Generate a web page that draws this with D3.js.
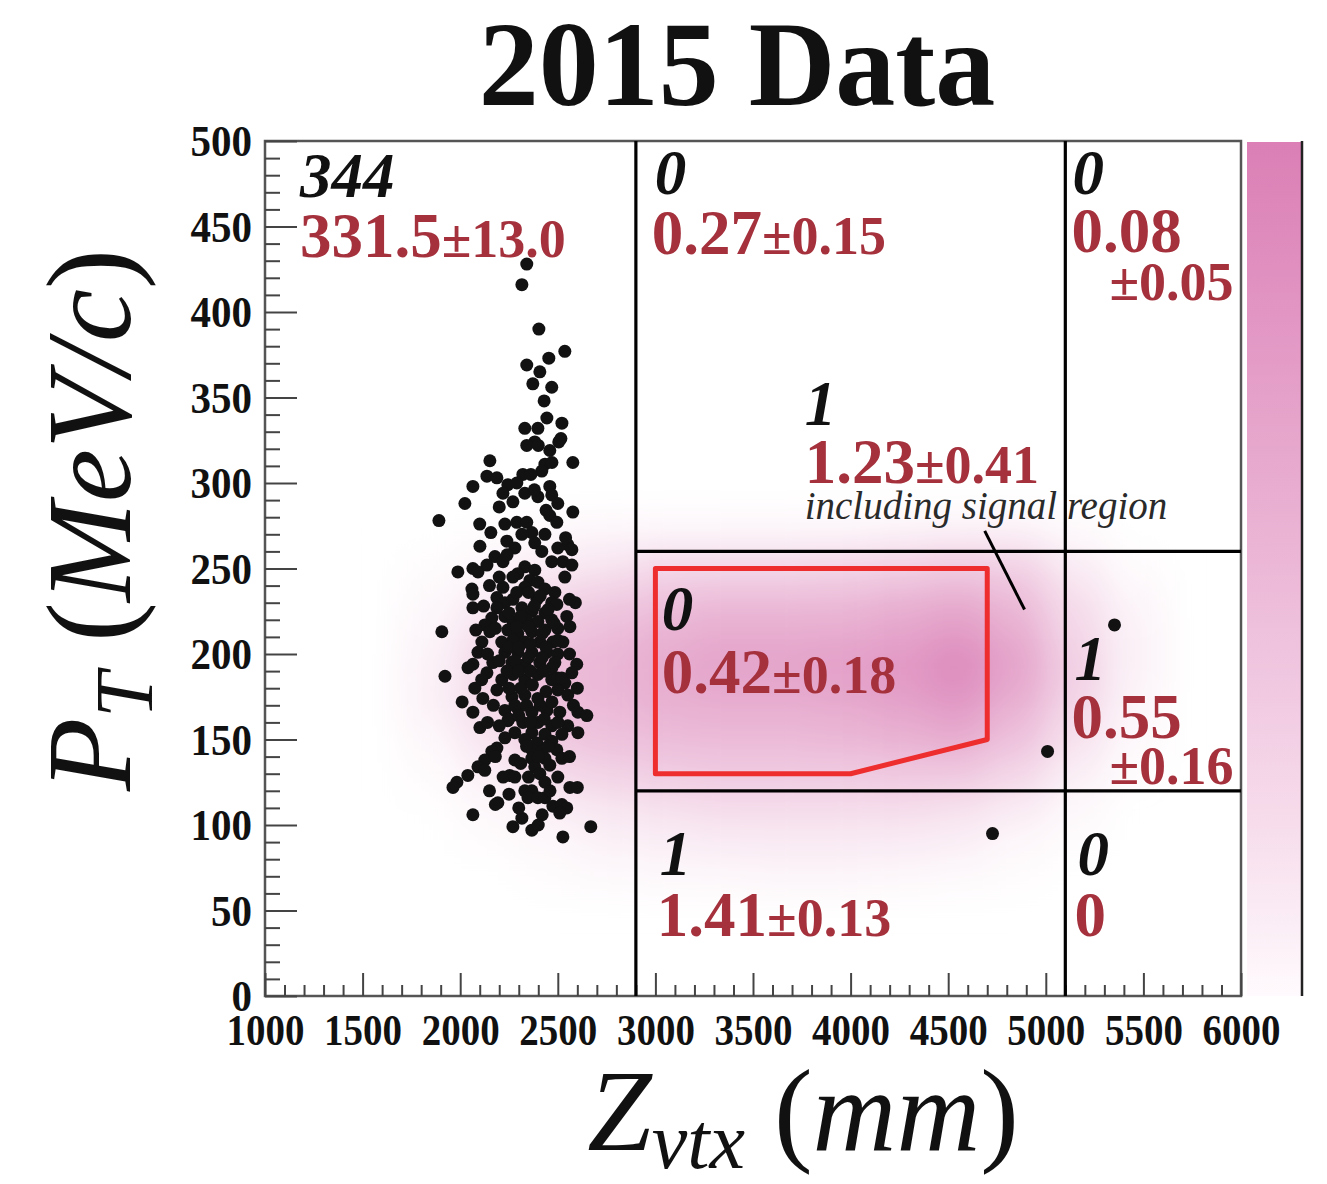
<!DOCTYPE html>
<html>
<head>
<meta charset="utf-8">
<script src="https://cdn.jsdelivr.net/npm/d3@7"></script>
<style>
  html, body { margin: 0; padding: 0; background: #fff; }
  svg { display: block; }
</style>
</head>
<body>
<svg id="chart" width="1327" height="1184"></svg>
<script>
// ---------------- DATA ----------------
const xTickValues = [1000, 1500, 2000, 2500, 3000, 3500, 4000, 4500, 5000, 5500, 6000];
const yTickValues = [0, 50, 100, 150, 200, 250, 300, 350, 400, 450, 500];

// selection cuts (mm, MeV/c)
const zCuts = [2900, 5100];
const ptCuts = [120, 260];

// signal region polygon (Zvtx, PT)
const signalRegion = [[3000, 130], [3000, 250], [4700, 250], [4700, 150], [4000, 130]];
const leaderLine = [[4687, 272], [4891, 226]];

// data events (Zvtx mm, PT MeV/c)
const events = [
 [2341,428],[2316,416],[2403,390],[2536,377],[2454,373],[2341,369],[2408,365],[2372,358],[2469,356],
 [2444,338],[2331,332],[2398,332],[2521,335],[2516,326],[2505,324],[2382,324],[2341,322],[2459,319],
 [2152,313],[2577,312],[2434,311],[2418,307],[2137,304],[2188,303],[2321,305],[2362,305],[2065,298],
 [2244,299],[2459,298],
 [2024,288],[1891,278],[2219,294],[2270,289],[2331,294],[2398,292],[2469,293],[2500,288],[2577,283],
 [2459,281],[2495,277],[2229,276],[2290,277],[2341,277],[2367,271],[2316,270],[2157,271],[2434,270],
 [2101,263],[2239,266],[2280,262],[2382,265],[2418,260],[2551,264],[2572,261],[2178,257],[2219,254],
 [2137,252],[2065,250],[2091,248],[1988,248],[2469,254],[2526,254],[2572,252],[2331,251],[2382,249],
 [2295,247],[2270,245],[2536,245],[2357,243],[2398,242],[2219,239],[2060,238],[2065,235],[2434,238],
 [2485,236],[2331,239],[2188,233],[2229,230],[2270,232],[2393,232],[2469,230],[2495,229],[2065,227],
 [2188,227],[2316,227],[2367,225],[2434,224],[2162,221],[2229,222],[2270,219],[2341,220],[2398,219],
 [2469,220],[2546,222],[1906,213],[2126,217],[2152,213],[2244,214],[2295,212],[2367,213],[2434,214],
 [2500,215],[2562,216],[2111,207],[2213,207],[2270,208],[2331,207],[2408,207],[2475,207],[2526,207],
 [2091,201],[2229,201],[2295,201],[2367,201],[2444,201],[2500,200],[2065,194],[2167,195],[2265,195],
 [2331,194],[2408,195],[2485,195],[2597,194],
 [1922,187],[2075,180],[2116,174],[2137,189],[2213,185],[2270,188],[2331,185],[2398,188],[2469,185],
 [2536,183],[2572,189],[2188,179],[2265,175],[2331,176],[2398,174],[2500,179],[2551,176],[2065,166],
 [2229,167],[2295,168],[2367,166],[2444,167],[2510,166],[2603,166],[2649,164],[2101,157],[2244,161],
 [2321,160],[2398,160],[2469,158],[2551,158],[2603,154],[2280,154],[2367,154],[2434,153],[2521,153],
 [2229,151],[2331,150],[2393,148],[2469,149],[2188,145],[2162,143],[2367,144],[2418,143],[2495,144],
 [2126,138],[2280,138],[2367,139],[2434,139],[2521,139],[2091,134],[2382,134],[2459,135],[2039,129],
 [2126,132],[2254,129],[2408,130],[2500,128],[1983,125],[1963,122],[2434,125],[2562,122],[2331,120],
 [2367,120],[2347,116],[2398,116],[2434,116],[2193,113],[2475,111],[2521,112],[2546,110],[2510,107],
 [2065,106],[2316,104],[2270,99],[2367,97],[2526,93],[2669,99],
 [2290,236],[2350,236],[2410,234],[2250,224],[2310,222],[2380,228],[2450,226],[2290,216],[2350,216],
 [2420,212],[2480,218],[2250,204],[2300,204],[2360,206],[2440,204],[2500,208],[2280,196],[2350,198],
 [2420,198],[2470,192],[2240,190],[2300,190],[2360,190],[2430,190],[2500,186],[2250,180],[2310,180],
 [2370,182],[2440,178],[2280,170],[2340,170],[2410,170],[2470,172],[2250,162],[2300,164],[2360,160],
 [2430,162],[2500,160],[2340,146],[2450,146],[2310,136],[2400,140],[2350,128],[2460,120],[2300,110],
 [2150,240],[2200,245],[2120,228],[2180,215],[2140,200],[2200,196],[2110,185],[2170,170],[2140,160],
 [2200,158],[2180,140],[2220,128],[2150,120],[2250,118],[2420,106],[2560,140],[2580,170],[2560,200],
 [2590,230],[2540,268],[2500,262],[2440,284],[2380,296],[2290,300],[2470,312],[2400,322],[2430,348],
 [2200,286],[2100,276],[2240,258],[2560,232],[2520,186],[2600,180],[2080,214],[2040,192],[2010,172],
 [2180,112],[2600,122],[2280,128],[2400,100],
 [5352,217],[5009,143],[4727,95]
];

// MC signal density (relative), bins 300 mm x 20 MeV/c
const densityZ = [1850, 2150, 2450, 2750, 3050, 3350, 3650, 3950, 4250, 4550, 4850, 5150, 5450];
const densityPt = [270, 250, 230, 210, 190, 170, 150, 130, 110, 90, 70];
const densityValues = [
 [0.00,0.02,0.05,0.08,0.08,0.08,0.08,0.08,0.10,0.12,0.12,0.05,0.00],
 [0.02,0.08,0.15,0.20,0.30,0.30,0.30,0.32,0.35,0.40,0.35,0.15,0.03],
 [0.05,0.15,0.30,0.38,0.45,0.50,0.50,0.50,0.55,0.60,0.50,0.25,0.08],
 [0.08,0.25,0.42,0.48,0.55,0.60,0.60,0.62,0.66,0.74,0.60,0.30,0.10],
 [0.10,0.30,0.48,0.52,0.60,0.65,0.65,0.68,0.74,0.84,0.66,0.35,0.10],
 [0.10,0.28,0.45,0.50,0.55,0.58,0.58,0.60,0.65,0.72,0.56,0.30,0.08],
 [0.06,0.20,0.38,0.44,0.48,0.50,0.50,0.52,0.55,0.60,0.45,0.22,0.05],
 [0.03,0.12,0.26,0.32,0.36,0.38,0.38,0.38,0.40,0.40,0.30,0.12,0.02],
 [0.01,0.06,0.12,0.18,0.22,0.25,0.25,0.25,0.25,0.22,0.15,0.05,0.00],
 [0.00,0.02,0.05,0.10,0.12,0.14,0.15,0.15,0.14,0.12,0.06,0.02,0.00],
 [0.00,0.00,0.02,0.04,0.05,0.06,0.07,0.07,0.06,0.04,0.02,0.00,0.00]
];

// region annotations: observed (black italic) and expected (red)
const observedLabels = [
 {z:1179, pt:467, text:"344"},
 {z:2997, pt:469, text:"0"},
 {z:5137, pt:469, text:"0"},
 {z:3765, pt:334, text:"1"},
 {z:3033, pt:214, text:"0"},
 {z:5147, pt:185, text:"1"},
 {z:3022, pt:71,  text:"1"},
 {z:5163, pt:71,  text:"0"}
];
const expectedLabels = [
 {z:1179, pt:432, main:"331.5", err:"±13.0"},
 {z:2981, pt:434, main:"0.27",  err:"±0.15"},
 {z:5132, pt:435, main:"0.08",  err:""},
 {z:5326, pt:407, main:"",      err:"±0.05"},
 {z:3765, pt:300, main:"1.23",  err:"±0.41"},
 {z:3033, pt:177, main:"0.42",  err:"±0.18"},
 {z:5132, pt:151, main:"0.55",  err:""},
 {z:5326, pt:124, main:"",      err:"±0.16"},
 {z:3007, pt:35,  main:"1.41",  err:"±0.13"},
 {z:5147, pt:35,  main:"0",     err:""}
];
const noteLabel = {z:3765, pt:279, text:"including signal region"};
const titleText = "2015 Data";

// ---------------- DRAWING ----------------
const svg = d3.select("#chart");
const L = 265, R = 1241, T = 141, B = 996;
const x = d3.scaleLinear().domain([1000, 6000]).range([L, R]);
const y = d3.scaleLinear().domain([0, 500]).range([B, T]);
const color = d3.scaleLinear().domain([0, 1]).range(["#ffffff", "#d672ae"]).interpolate(d3.interpolateRgb);
const serif = "'Liberation Serif', 'Times New Roman', serif";
const red = "#a5313d";

const defs = svg.append("defs");
defs.append("clipPath").attr("id", "plotClip")
  .append("rect").attr("x", L).attr("y", T).attr("width", R - L).attr("height", B - T);
const blur = defs.append("filter").attr("id", "blur")
  .attr("filterUnits", "userSpaceOnUse")
  .attr("x", L - 100).attr("y", T - 100).attr("width", R - L + 200).attr("height", B - T + 200);
blur.append("feGaussianBlur").attr("stdDeviation", 18);

// density map
const heat = svg.append("g").attr("clip-path", "url(#plotClip)")
  .append("g").attr("filter", "url(#blur)");
const dz = 300, dpt = 20;
densityValues.forEach((row, i) => {
  row.forEach((v, j) => {
    heat.append("rect")
      .attr("x", x(densityZ[j] - dz / 2))
      .attr("y", y(densityPt[i] + dpt / 2))
      .attr("width", x(densityZ[j] + dz / 2) - x(densityZ[j] - dz / 2))
      .attr("height", y(densityPt[i] - dpt / 2) - y(densityPt[i] + dpt / 2))
      .attr("fill", color(v));
  });
});

// colour bar
const barColor = d3.scaleLinear().domain([0, 1]).range(["#fffafd", "#db7fb6"]);
const grad = defs.append("linearGradient").attr("id", "cbar")
  .attr("x1", 0).attr("y1", 1).attr("x2", 0).attr("y2", 0);
d3.range(0, 1.0001, 0.1).forEach(t => {
  grad.append("stop").attr("offset", t).attr("stop-color", barColor(Math.pow(t, 0.9)));
});
svg.append("rect").attr("x", 1247).attr("y", T + 1).attr("width", 55).attr("height", B - T - 1)
  .attr("fill", "url(#cbar)");
svg.append("line").attr("x1", 1302).attr("x2", 1302).attr("y1", T).attr("y2", B)
  .attr("stroke", "#222").attr("stroke-width", 2.5);

// frame
svg.append("rect").attr("x", L).attr("y", T).attr("width", R - L).attr("height", B - T)
  .attr("fill", "none").attr("stroke", "#555").attr("stroke-width", 2.5);

// axes
const minorX = d3.range(1000, 6001, 100).filter(v => v % 500 !== 0);
const minorY = d3.range(0, 501, 10).filter(v => v % 50 !== 0);

const gx = svg.append("g").attr("transform", `translate(0,${B})`);
gx.call(d3.axisBottom(x).tickValues(minorX).tickSize(-11).tickSizeOuter(0).tickFormat(""));
gx.selectAll(".tick line").attr("stroke", "#444").attr("stroke-width", 2);
const gx2 = svg.append("g").attr("transform", `translate(0,${B})`);
gx2.call(d3.axisBottom(x).tickValues(xTickValues).tickSize(-23).tickSizeOuter(0).tickPadding(17).tickFormat(d3.format("d")));
gx2.selectAll(".tick line").attr("stroke", "#444").attr("stroke-width", 2);
gx2.selectAll(".tick text").attr("font-family", serif).attr("font-weight", "bold")
  .attr("font-size", 45).attr("fill", "#111")
  .attr("textLength", d => String(d).length * 19.5).attr("lengthAdjust", "spacingAndGlyphs");
svg.selectAll(".domain").remove();

const gy = svg.append("g").attr("transform", `translate(${L},0)`);
gy.call(d3.axisLeft(y).tickValues(minorY).tickSize(-15).tickSizeOuter(0).tickFormat(""));
gy.selectAll(".tick line").attr("stroke", "#444").attr("stroke-width", 2);
const gy2 = svg.append("g").attr("transform", `translate(${L},0)`);
gy2.call(d3.axisLeft(y).tickValues(yTickValues).tickSize(-32).tickSizeOuter(0).tickPadding(13).tickFormat(d3.format("d")));
gy2.selectAll(".tick line").attr("stroke", "#444").attr("stroke-width", 2);
gy2.selectAll(".tick text").attr("font-family", serif).attr("font-weight", "bold")
  .attr("font-size", 44).attr("fill", "#111").attr("dy", "0.34em")
  .attr("textLength", d => String(d).length * 20.5).attr("lengthAdjust", "spacingAndGlyphs");
svg.selectAll(".domain").remove();

// cut lines
const cuts = svg.append("g").attr("stroke", "#000").attr("stroke-width", 3.2);
zCuts.forEach(z => cuts.append("line").attr("x1", x(z)).attr("x2", x(z)).attr("y1", y(500)).attr("y2", y(0)));
ptCuts.forEach(p => cuts.append("line").attr("x1", x(zCuts[0])).attr("x2", x(6000)).attr("y1", y(p)).attr("y2", y(p)));

// signal region
svg.append("path")
  .attr("d", d3.line().x(d => x(d[0])).y(d => y(d[1])).curve(d3.curveLinearClosed)(signalRegion))
  .attr("fill", "none").attr("stroke", "#ee2e2e").attr("stroke-width", 5).attr("stroke-linejoin", "round");

// leader line
svg.append("line")
  .attr("x1", x(leaderLine[0][0])).attr("y1", y(leaderLine[0][1]))
  .attr("x2", x(leaderLine[1][0])).attr("y2", y(leaderLine[1][1]))
  .attr("stroke", "#000").attr("stroke-width", 3);

// events
svg.append("g").selectAll("circle").data(events).join("circle")
  .attr("cx", d => x(d[0])).attr("cy", d => y(d[1])).attr("r", 6.5).attr("fill", "#121212");

// labels
svg.append("g").selectAll("text").data(observedLabels).join("text")
  .attr("x", d => x(d.z)).attr("y", d => y(d.pt))
  .attr("font-family", serif).attr("font-style", "italic").attr("font-weight", "bold")
  .attr("font-size", 63).attr("fill", "#111").text(d => d.text);

const exp = svg.append("g").selectAll("text").data(expectedLabels).join("text")
  .attr("x", d => x(d.z)).attr("y", d => y(d.pt))
  .attr("font-family", serif).attr("font-weight", "bold").attr("fill", red);
exp.append("tspan").attr("font-size", 63).text(d => d.main);
exp.append("tspan").attr("font-size", 54).text(d => d.err);

svg.append("text").attr("x", x(noteLabel.z)).attr("y", y(noteLabel.pt))
  .attr("font-family", serif).attr("font-style", "italic").attr("font-size", 39)
  .attr("fill", "#2a2a2a").text(noteLabel.text);

// title
svg.append("text").attr("x", 737).attr("y", 105).attr("text-anchor", "middle")
  .attr("font-family", serif).attr("font-weight", "bold").attr("font-size", 120)
  .attr("fill", "#111").text(titleText);

// x axis title
const xt = svg.append("text").attr("x", 803).attr("y", 1150).attr("text-anchor", "middle")
  .attr("font-family", serif).attr("font-size", 116).attr("fill", "#111");
xt.append("tspan").attr("font-style", "italic").text("Z");
xt.append("tspan").attr("font-style", "italic").attr("font-size", 80).attr("dy", 18).text("vtx");
xt.append("tspan").attr("dy", -18).text(" (");
xt.append("tspan").attr("font-style", "italic").text("mm");
xt.append("tspan").text(")");

// y axis title
const yt = svg.append("text").attr("transform", "translate(130,520) rotate(-90)")
  .attr("text-anchor", "middle").attr("font-family", serif).attr("font-size", 120).attr("fill", "#111");
yt.append("tspan").attr("font-style", "italic").text("P");
yt.append("tspan").attr("font-style", "italic").attr("font-size", 82).attr("dy", 22).text("T");
yt.append("tspan").attr("dy", -22).text(" (");
yt.append("tspan").attr("font-style", "italic").text("MeV/c");
yt.append("tspan").text(")");
</script>
</body>
</html>
